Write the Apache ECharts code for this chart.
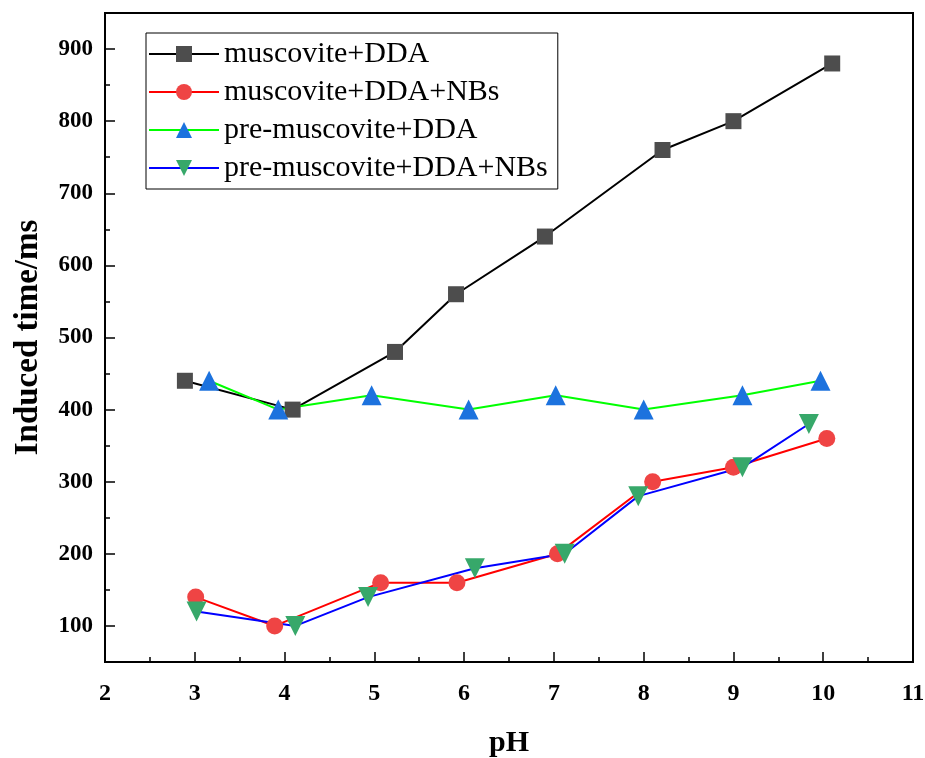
<!DOCTYPE html>
<html>
<head>
<meta charset="utf-8">
<script src="https://cdn.jsdelivr.net/npm/echarts@6/dist/echarts.min.js"></script>
<style>
  html, body { margin: 0; padding: 0; background: #fff; }
  #chart { width: 925px; height: 758px; }
</style>
</head>
<body>
<div id="chart"></div>
<script>
// data (pH, induced time in ms)
const muscoviteDDA_x = [2.89, 4.09, 5.23, 5.91, 6.9, 8.21, 9.0, 10.1]
const muscoviteDDA_y = [440, 400, 480, 560, 640, 760, 800, 880]

const muscoviteNBs_x = [3.01, 3.89, 5.07, 5.92, 7.04, 8.1, 9.0, 10.04]
const muscoviteNBs_y = [140, 100, 160, 160, 200, 300, 320, 360]

const preDDA_x = [3.16, 3.93, 4.97, 6.05, 7.02, 8.0, 9.1, 9.97]
const preDDA_y = [440, 400, 420, 400, 420, 400, 420, 440]

const preNBs_x = [3.02, 4.12, 4.93, 6.12, 7.12, 7.94, 9.1, 9.84]
const preNBs_y = [120, 100, 140, 180, 200, 280, 320, 380]

const yMajor = [100, 200, 300, 400, 500, 600, 700, 800, 900]
const yMinor = [150, 250, 350, 450, 550, 650, 750, 850]

const pairs = (xs, ys) => xs.map((x, i) => [x, ys[i]])

const font = "Liberation Serif"
const chart = echarts.init(document.getElementById("chart"))

const makeSeries = (name, data, lineColor, symbol, markColor, size, rotate) => ({
  name: name,
  type: "line",
  data: data,
  symbol: symbol,
  symbolSize: size,
  symbolRotate: rotate || 0,
  lineStyle: { color: lineColor, width: 2 },
  itemStyle: { color: markColor },
  emphasis: { disabled: true },
  z: 3,
})

const option = {
  backgroundColor: "#fff",
  animation: false,
  grid: {
    left: 105, right: 12, top: 13, bottom: 96,
    outerBoundsMode: "none",
    show: true, borderColor: "#000", borderWidth: 2,
  },
  legend: {
    orient: "vertical",
    left: 146, top: 33,
    itemWidth: 70, itemHeight: 20, itemGap: 8,
    padding: [6, 10, 6, 2],
    borderColor: "#000", borderWidth: 1,
    textStyle: { fontFamily: font, fontSize: 30, color: "#000" },
  },
  xAxis: {
    type: "value",
    min: 2, max: 11, interval: 1,
    axisLine: { onZero: false, lineStyle: { color: "#000", width: 2 } },
    axisTick: { inside: true, length: 10, lineStyle: { color: "#000", width: 1.5 } },
    minorTick: { show: true, splitNumber: 2, length: 5, lineStyle: { color: "#000", width: 1.5 } },
    splitLine: { show: false },
    axisLabel: { margin: 20, fontFamily: font, fontWeight: "bold", fontSize: 24, color: "#000" },
    name: "pH",
    nameLocation: "middle",
    nameGap: 66,
    nameTextStyle: { fontFamily: font, fontWeight: "bold", fontSize: 30, color: "#000" },
  },
  yAxis: [
    {
      type: "value",
      min: 50, max: 950,
      axisLine: { onZero: false, lineStyle: { color: "#000", width: 2 } },
      axisTick: { inside: true, length: 10, customValues: yMajor, lineStyle: { color: "#000", width: 1.5 } },
      axisLabel: { margin: 12, customValues: yMajor, fontFamily: font, fontWeight: "bold", fontSize: 23, color: "#000" },
      splitLine: { show: false },
      name: "Induced time/ms",
      nameLocation: "middle",
      nameGap: 60,
      nameTextStyle: { fontFamily: font, fontWeight: "bold", fontSize: 33, color: "#000" },
    },
    {
      type: "value",
      min: 50, max: 950,
      position: "left",
      axisLine: { show: false },
      axisTick: { inside: true, length: 5, customValues: yMinor, lineStyle: { color: "#000", width: 1.5 } },
      axisLabel: { show: false },
      splitLine: { show: false },
    },
  ],
  series: [
    makeSeries("muscovite+DDA", pairs(muscoviteDDA_x, muscoviteDDA_y), "#000000", "rect", "#4d4d4d", 16),
    makeSeries("muscovite+DDA+NBs", pairs(muscoviteNBs_x, muscoviteNBs_y), "#ff0000", "circle", "#ef4444", 17),
    makeSeries("pre-muscovite+DDA", pairs(preDDA_x, preDDA_y), "#00ff00", "triangle", "#1c72de", 20),
    makeSeries("pre-muscovite+DDA+NBs", pairs(preNBs_x, preNBs_y), "#0000ff", "triangle", "#37a86a", 20, 180),
  ],
}

chart.setOption(option)
</script>
</body>
</html>
